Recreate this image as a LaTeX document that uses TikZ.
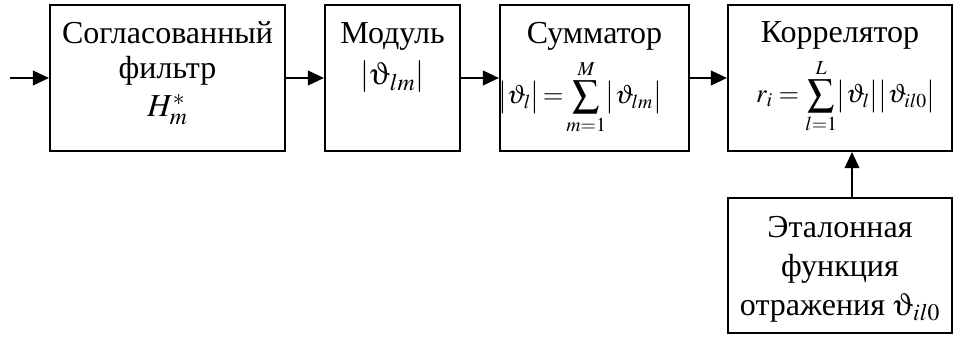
\documentclass[tikz,border=0pt]{standalone}
\usepackage{mathptmx}
\usepackage[Symbol]{upgreek}
\usepackage{fontspec}
\setmainfont{Liberation Serif}
\usetikzlibrary{arrows.meta}
\begin{document}
\begin{tikzpicture}[x=0.75pt,y=-0.75pt,
  box/.style={draw,line width=1.6pt,inner sep=0pt},
  lbl/.style={anchor=base,inner sep=0pt,font=\fontsize{24}{30}\selectfont},
  fml/.style={anchor=base,inner sep=0pt,font=\fontsize{20}{24}\selectfont},
  arr/.style={line width=1.4pt,-{Triangle[length=12pt,width=11pt]}}]
\useasboundingbox (0,0) rectangle (955,338);
% boxes
\node[box,minimum width=176.25pt,minimum height=109.5pt] (b1) at (167.5,78) {};
\node[box,minimum width=101.25pt,minimum height=109.5pt] (b2) at (392.5,78) {};
\node[box,minimum width=141.75pt,minimum height=109.5pt] (b3) at (594.5,78) {};
\node[box,minimum width=168pt,minimum height=109.5pt] (b4) at (840,78) {};
\node[box,minimum width=168pt,minimum height=101.25pt] (b5) at (840,265.5) {};
\coordinate (in) at (10,78);
% texts
\node[lbl] (t1a) at (167.5,44) {Согласованный};
\node[lbl] (t1b) at (167.5,79) {фильтр};
\node[lbl] (t1c) at (167.5,117) {$H_m^{*}$};
\node[lbl] (t2a) at (392.5,44) {Модуль};
\node[lbl] (t2b) at (392.5,85) {$|\upvartheta_{lm}|$};
\node[lbl] (t3a) at (594.5,44) {Сумматор};
\node[fml] (t3b) at (580,104) {$\displaystyle \bigl|\vartheta_l\bigr|\!=\!\sum_{m=1}^{M}\bigl|\vartheta_{lm}\bigr|$};
\node[lbl] (t4a) at (840,43) {Коррелятор};
\node[fml] (t4b) at (846,103) {$\displaystyle r_i = \sum_{l=1}^{L}\bigl|\vartheta_l\bigr|\bigl|\vartheta_{il0}\bigr|$};
\node[lbl] (t5a) at (840,238) {Эталонная};
\node[lbl] (t5b) at (840,276) {функция};
\node[lbl] (t5c) at (840,315) {отражения $\upvartheta_{il0}$};
% connectors
\draw[arr] (in) -- (b1.west);
\draw[arr] (b1.east) -- (b2.west);
\draw[arr] (b2.east) -- (b3.west);
\draw[arr] (b3.east) -- (b4.west);
\draw[arr] ([xshift=9pt]b5.north) -- ([xshift=9pt]b4.south);
\end{tikzpicture}
\end{document}
